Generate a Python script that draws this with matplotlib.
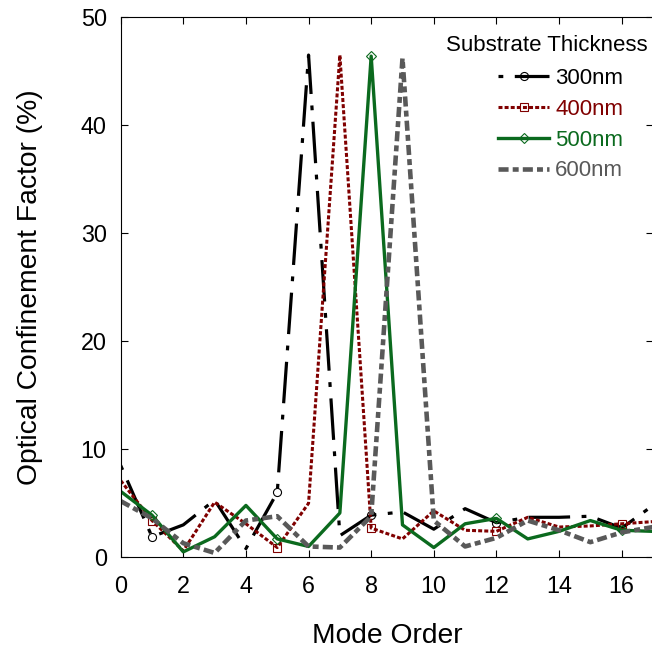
import matplotlib
matplotlib.use('Agg')
import matplotlib.pyplot as plt
from matplotlib.lines import Line2D

plt.rcParams['font.family'] = ['Liberation Sans', 'DejaVu Sans']

# Datos
modos = list(range(18))
t300 = [8.5, 1.9, 3.0, 5.3, 0.8, 6.0, 46.5, 2.0, 3.9, 4.2, 2.6, 4.5, 3.2, 3.7, 3.7, 3.8, 2.7, 4.8]
t400 = [7.1, 3.4, 0.6, 5.1, 3.1, 0.9, 5.0, 46.5, 2.7, 1.7, 4.3, 2.5, 2.4, 3.7, 2.8, 2.9, 3.1, 3.3]
t500 = [6.1, 3.9, 0.5, 1.9, 4.8, 1.7, 1.0, 4.1, 46.4, 3.0, 0.9, 3.1, 3.6, 1.7, 2.4, 3.4, 2.5, 2.4]
t600 = [5.2, 3.6, 1.3, 0.4, 3.4, 3.8, 1.0, 0.9, 3.8, 46.2, 3.4, 1.0, 1.8, 3.4, 2.5, 1.4, 2.3, 2.8]
etiquetas = ['300nm', '400nm', '500nm', '600nm']
marcas = [1, 5, 8, 12, 16]

negro = '#000000'
rojo = '#800000'
verde = '#0b6a1e'
gris = '#595959'

# estilos: color, grosor, patron, marcador
estilos = [
    (negro, 2.3, (0, (1.5, 3.6, 13, 3.6)), 'o'),
    (rojo, 2.2, (0, (1.3, 0.7)), 's'),
    (verde, 2.4, '-', 'D'),
    (gris, 3.3, (0, (2.2, 0.9, 1.3, 0.9)), None),
]

fig = plt.figure(figsize=(6.52, 6.53), dpi=100)
ax = fig.add_axes([0.1851, 0.1466, 0.8164, 0.8270])

series = [t300, t400, t500, t600]
handles = []
for i in range(4):
    c, lw, ls, mk = estilos[i]
    ms = 4.6 if mk == 'D' else 5.8
    if mk is not None:
        ax.plot(modos, series[i], color=c, lw=lw, ls=ls, marker=mk, markevery=marcas,
                ms=ms, mfc='none', mec=c, mew=0.8)
    else:
        ax.plot(modos, series[i], color=c, lw=lw, ls=ls)
    handles.append(Line2D([], [], color=c, lw=lw, ls=ls, marker=mk if mk else 'None',
                          ms=ms, mfc='none', mec=c, mew=0.8))

ax.set_xlim(0, 17)
ax.set_ylim(0, 50)
ax.set_xticks(range(0, 17, 2))
ax.set_yticks(range(0, 51, 10))
ax.tick_params(direction='in', length=5, width=0.8, top=True, right=True,
               labelsize=16.8, pad=10)
ax.tick_params(axis='x', pad=13)
for s in ax.spines.values():
    s.set_linewidth(0.8)

ax.set_xlabel('Mode Order', fontsize=20.3, labelpad=18)
ax.set_ylabel('Optical Confinement Factor (%)', fontsize=20.3)
ax.yaxis.set_label_coords(-0.146, 0.5)

# leyenda
ax.text(0.9906, 0.938, 'Substrate Thickness', transform=ax.transAxes,
        ha='right', va='baseline', fontsize=16)
leg = ax.legend(handles, etiquetas, loc='upper right', bbox_to_anchor=(0.9437, 0.906),
                frameon=False, fontsize=16, handlelength=2.3, handletextpad=0.25,
                labelspacing=0.44, borderpad=0, borderaxespad=0, labelcolor='linecolor',
                numpoints=1)

fig.savefig('out.png', dpi=100)
